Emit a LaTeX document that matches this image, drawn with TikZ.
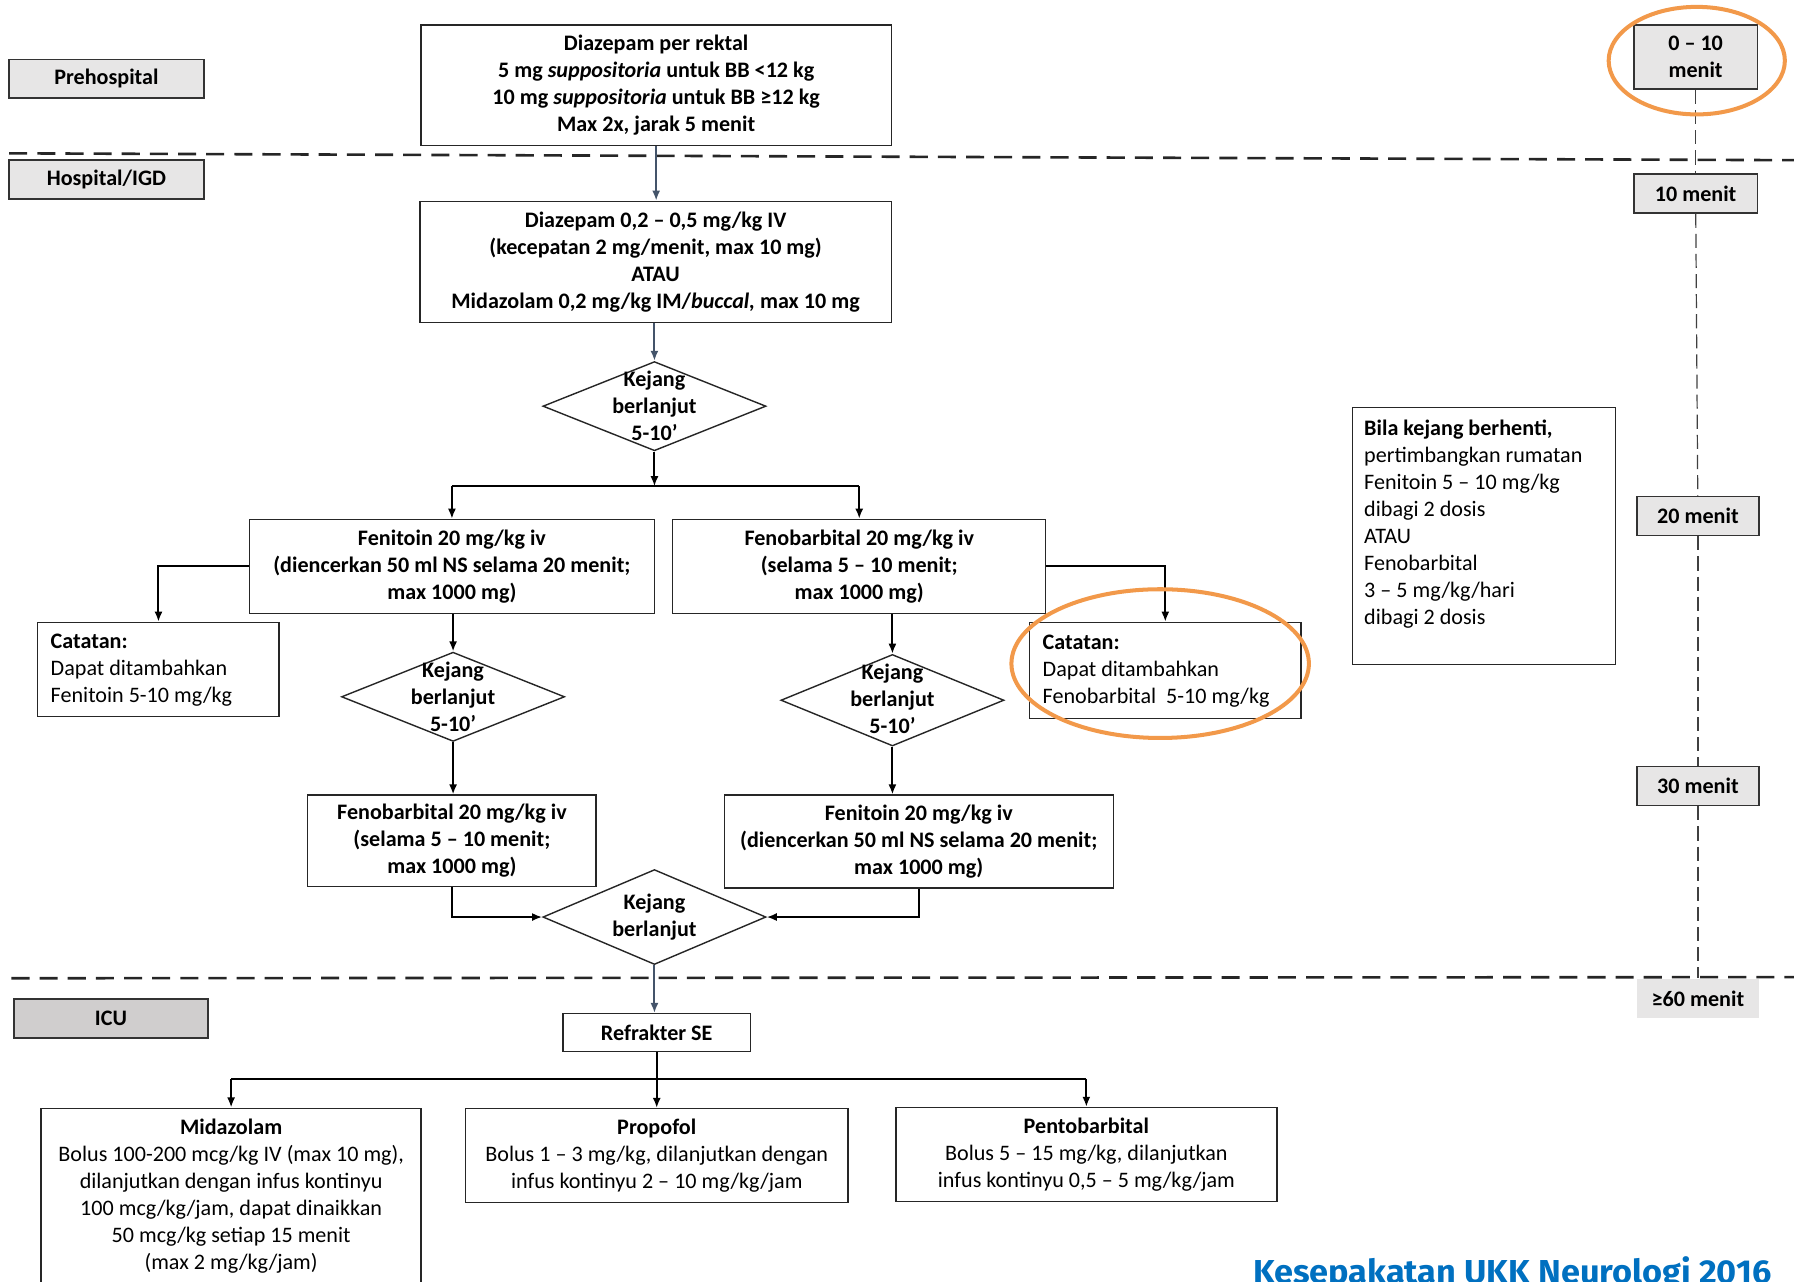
\documentclass[tikz,border=0pt]{standalone}
\usepackage{fontspec}
\usepackage{graphicx}
\setmainfont{Carlito}
\newfontfamily\footfont{Fira Sans}
\usetikzlibrary{shapes.geometric,arrows.meta,calc}
\definecolor{slate}{HTML}{44546A}
\definecolor{orng}{RGB}{242,153,74}
\definecolor{lgray}{HTML}{E7E6E6}
\definecolor{mgray}{HTML}{D0CECE}
\definecolor{footblue}{HTML}{0070C0}
\begin{document}
\begin{tikzpicture}[x=0.02cm,y=-0.02cm,
  every node/.style={font=\fontsize{11}{13.44}\selectfont, inner sep=0pt},
  sz/.style 2 args={minimum width=#1*0.02cm, minimum height=#2*0.02cm},
  box/.style={draw=black!85, line width=0.7pt, fill=white, align=center, font=\bfseries\fontsize{11}{13.44}\selectfont},
  note/.style={draw=black!85, line width=0.7pt, fill=white},
  lab/.style={draw=black!80, line width=0.9pt, fill=lgray, align=center, font=\bfseries\fontsize{11}{13.44}\selectfont},
  dia/.style={diamond, draw=black!85, line width=0.7pt, fill=white},
  ktxt/.style={align=center, font=\bfseries\fontsize{11}{13.44}\selectfont},
  conn/.style={line width=1pt, -{Latex[length=5pt,width=4pt]}},
  conns/.style={conn, draw=slate},
  wire/.style={line width=1pt},
  sect/.style={line width=1.3pt, dash pattern=on 9pt off 5pt, draw=black!85},
  tline/.style={line width=0.6pt, dash pattern=on 7pt off 3pt, draw=black!75},
  ring/.style={draw=orng, line width=2pt},
]
\useasboundingbox (0,0) rectangle (1568,1120);
\clip (0,0) rectangle (1568,1120);

% section separators
\draw[sect] (8,134) -- (1568,140);
\draw[sect] (10,855) -- (1568,854);

% phase labels
\node[lab, sz={170}{34}] (pre) at (93,69) {Prehospital};
\node[lab, sz={170}{34}] (hosp) at (93,157) {Hospital/IGD};
\node[lab, fill=mgray, sz={170}{34}] (icu) at (97,890) {ICU};

% time axis
\node[lab, sz={108}{56}] (t0) at (1482,50) {0 – 10\\menit};
\node[lab, sz={108}{34}] (t10) at (1482,169) {10 menit};
\node[lab, sz={107}{34}] (t20) at (1484,451) {20 menit};
\node[lab, sz={107}{34}] (t30) at (1484,687) {30 menit};
\node[lab, draw=none, sz={107}{34}] (t60) at (1484,873) {≥60 menit};
\draw[tline] (t0) -- (t10);
\draw[tline] (t10) -- (t20);
\draw[tline] (t20) -- (t30);
\draw[tline] (t30) -- (t60);
\draw[ring] (1483,53) ellipse [x radius=77, y radius=47];

% main flow
\node[box, sz={411}{105}] (b1) at (573.5,74.5) {Diazepam per rektal\\5 mg \textit{suppositoria} untuk BB <12 kg\\10 mg \textit{suppositoria} untuk BB ≥12 kg\\Max 2x, jarak 5 menit};
\node[box, sz={412}{106}] (b2) at (573,229) {Diazepam 0,2 – 0,5 mg/kg IV\\(kecepatan 2 mg/menit, max 10 mg)\\ATAU\\Midazolam 0,2 mg/kg IM/\textit{buccal,} max 10 mg};
\node[dia, sz={195}{78}] (d1) at (572,355) {};
\node[ktxt] (d1t) at (572,355) {Kejang\\berlanjut\\5-10’};

\node[box, sz={354}{82}] (f1) at (395,495) {Fenitoin 20 mg/kg iv\\(diencerkan 50 ml NS selama 20 menit;\\max 1000 mg)};
\node[box, sz={326}{82}] (f2) at (751,495) {Fenobarbital 20 mg/kg iv\\(selama 5 – 10 menit;\\max 1000 mg)};

\node[note, sz={211}{82}] (c1) at (138.5,585) {};
\node[anchor=west, align=left] (c1t) at (44,586) {\textbf{Catatan:}\\Dapat ditambahkan\\Fenitoin 5-10 mg/kg};
\node[note, sz={237}{84}] (c2) at (1018.5,586) {};
\node[anchor=west, align=left] (c2t) at (911,587) {\textbf{Catatan:}\\Dapat ditambahkan\\Fenobarbital\ \ 5-10 mg/kg};

\node[dia, sz={195}{78}] (d2) at (396,609) {};
\node[ktxt] (d2t) at (396,609) {Kejang\\berlanjut\\5-10’};
\node[dia, sz={195}{80}] (d3) at (780,612) {};
\node[ktxt] (d3t) at (780,611) {Kejang\\berlanjut\\5-10’};

\node[box, sz={252}{80}] (g1) at (395,735) {Fenobarbital 20 mg/kg iv\\(selama 5 – 10 menit;\\max 1000 mg)};
\node[box, sz={340}{81}] (g2) at (803,735.5) {Fenitoin 20 mg/kg iv\\(diencerkan 50 ml NS selama 20 menit;\\max 1000 mg)};

\node[dia, sz={195}{83}] (d4) at (572,801.5) {};
\node[ktxt] (d4t) at (572,801.5) {Kejang\\berlanjut};

\node[box, sz={164}{33}] (rse) at (574,902.5) {Refrakter SE};

\node[note, sz={332}{180}, anchor=north] (p1) at (202,968) {};
\node[align=center] (p1t) at (202,1045.5) {\textbf{Midazolam}\\Bolus 100-200 mcg/kg IV (max 10 mg),\\dilanjutkan dengan infus kontinyu\\100 mcg/kg/jam, dapat dinaikkan\\50 mcg/kg setiap 15 menit\\(max 2 mg/kg/jam)};
\node[note, sz={334}{82}, align=center] (p2) at (574,1010) {\textbf{Propofol}\\Bolus 1 – 3 mg/kg, dilanjutkan dengan\\infus kontinyu 2 – 10 mg/kg/jam};
\node[note, sz={333}{82}, align=center] (p3) at (949.5,1009) {\textbf{Pentobarbital}\\Bolus 5 – 15 mg/kg, dilanjutkan\\infus kontinyu 0,5 – 5 mg/kg/jam};

\node[note, sz={230}{225}] (bila) at (1297,468.5) {};
\node[anchor=north west, align=left] (bilat) at (1192,367) {\textbf{Bila kejang berhenti,}\\pertimbangkan rumatan\\Fenitoin 5 – 10 mg/kg\\dibagi 2 dosis\\ATAU\\Fenobarbital\\3 – 5 mg/kg/hari\\dibagi 2 dosis};

% connectors
\coordinate (j1) at (572,425);
\coordinate (j2) at (575,943);
\draw[conns] (b1.south) -- (b1.south |- b2.north);
\draw[conns] (d1.north |- b2.south) -- (d1.north);
\draw[conn] (d1.south) -- (j1);
\draw[wire] (f1.north |- j1) -- (f2.north |- j1);
\draw[conn] (f1.north |- j1) -- (f1.north);
\draw[conn] (f2.north |- j1) -- (f2.north);
\draw[conn] (f1.west) -| (c1.north);
\draw[conn] (f2.east) -| (c2.north);
\draw[conn] (d2.north |- f1.south) -- (d2.north);
\draw[conn] (d3.north |- f2.south) -- (d3.north);
\draw[conn] (d2.south) -- (d2.south |- g1.north);
\draw[conn] (d3.south) -- (d3.south |- g2.north);
\draw[conn] (g1.south) |- (d4.west);
\draw[conn] (g2.south) |- (d4.east);
\draw[conns] (d4.south) -- (d4.south |- rse.north);
\draw[conn] (rse.south) -- (rse.south |- p2.north);
\draw[wire] (p1.north |- j2) -- (p3.north |- j2);
\draw[conn] (p1.north |- j2) -- (p1.north);
\draw[conn] (p3.north |- j2) -- (p3.north);

\draw[ring] (1014,580) ellipse [x radius=130, y radius=65];

\node[anchor=base west, text=footblue] (foot) at (1095,1122) {\footfont\bfseries\resizebox{9.06cm}{0.47cm}{Kesepakatan UKK Neurologi 2016}};
\end{tikzpicture}
\end{document}
